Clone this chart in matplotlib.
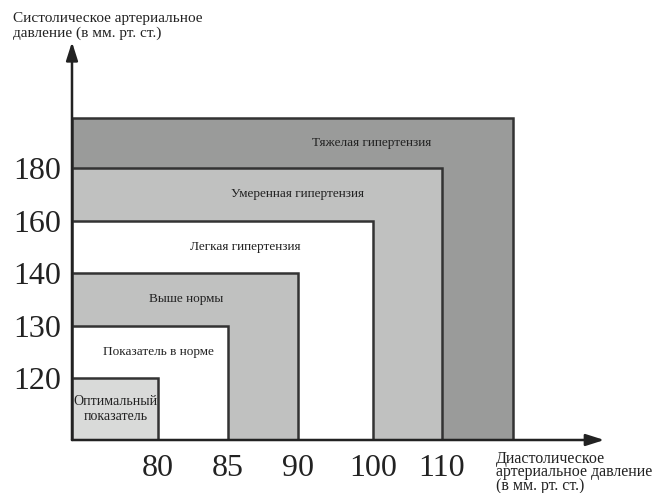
import matplotlib.pyplot as plt
from matplotlib.patches import Rectangle

plt.rcParams['font.family'] = ['Liberation Serif', 'DejaVu Serif']

# значения диастолического / систолического давления (порядковая шкала)
x_ticks = ['80', '85', '90', '100', '110']
y_ticks = ['120', '130', '140', '160', '180']
x_tick_pos = [1, 2, 3, 4.07, 5.06]
y_tick_pos = [1, 2, 3, 4, 5]

categories = ['Тяжелая гипертензия', 'Умеренная гипертензия', 'Легкая гипертензия',
              'Выше нормы', 'Показатель в норме', 'Оптимальный\nпоказатель']
# правая и верхняя граница каждой зоны (последняя зона выходит за шкалу)
x_edge = [6.07, 5.06, 4.07, 3, 2, 1]
y_edge = [5.95, 5, 4, 3, 2, 1]
colors = ['#9a9b9a', '#c0c1c0', '#ffffff', '#c0c1c0', '#ffffff', '#d9dad9']

# положение и размер подписей внутри зон
label_x = [4.06, 2.99, 2.24, 1.40, 1.00, 0.39]
label_fs = [9.5, 9.5, 9.5, 9.5, 9.5, 10]

x0, y0 = -0.23, -0.18

fig = plt.figure(figsize=(6.56, 4.93), dpi=100)
ax = fig.add_axes([72 / 656, 1 - 440 / 493, 533 / 656, 398 / 493])
ax.set_xlim(x0, 7.39)
ax.set_ylim(y0, 7.4)

for i, name in enumerate(categories):
    r = Rectangle((x0, y0), x_edge[i] - x0, y_edge[i] - y0,
                  facecolor=colors[i], edgecolor='#333333', linewidth=1.8, zorder=i + 1)
    ax.add_patch(r)
    top = y_edge[i]
    nxt = y_edge[i + 1] if i + 1 < len(y_edge) else y0
    ax.text(label_x[i], (top + nxt) / 2, name, ha='center', va='center',
            fontsize=label_fs[i], color='#222222', zorder=20, linespacing=1.15)

# оси со стрелками
ax.annotate('', xy=(7.38, y0), xytext=(x0, y0),
            arrowprops=dict(arrowstyle='-|>,head_length=1.1,head_width=0.35',
                            color='#222222', lw=1.8, shrinkA=0, shrinkB=0), zorder=30)
ax.annotate('', xy=(x0, 7.4), xytext=(x0, y0),
            arrowprops=dict(arrowstyle='-|>,head_length=1.1,head_width=0.35',
                            color='#222222', lw=1.8, shrinkA=0, shrinkB=0), zorder=30)

for s in ax.spines.values():
    s.set_visible(False)

ax.set_xticks(x_tick_pos)
ax.set_xticklabels(x_ticks, fontsize=23, color='#222222')
ax.set_yticks(y_tick_pos)
ax.set_yticklabels(y_ticks, fontsize=23, color='#222222')
ax.tick_params(length=0)
ax.tick_params(axis='x', pad=10)
ax.tick_params(axis='y', pad=8)

fig.text(13 / 656, 1 - 12 / 493, 'Систолическое артериальное\nдавление (в мм. рт. ст.)',
         ha='left', va='top', fontsize=11, color='#222222', linespacing=1.15)
fig.text(496 / 656, 1 - 451 / 493, 'Диастолическое\nартериальное давление\n(в мм. рт. ст.)',
         ha='left', va='top', fontsize=11.5, color='#222222', linespacing=0.78)

fig.savefig('out.png', dpi=100)
